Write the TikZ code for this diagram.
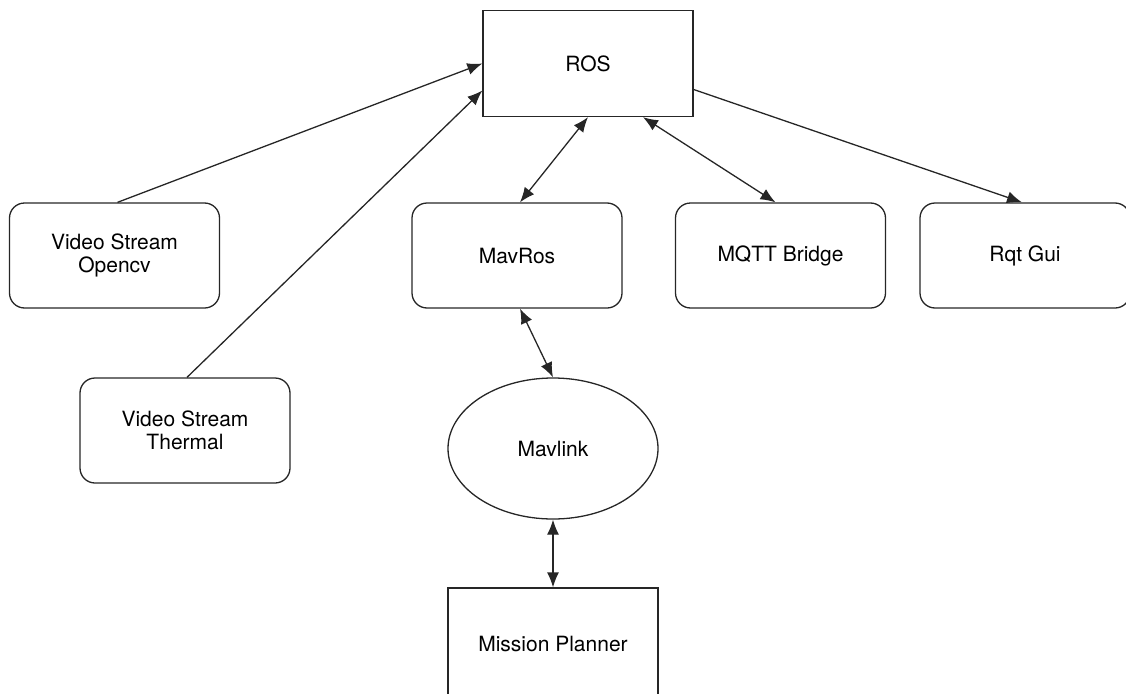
\documentclass[tikz,border=0pt]{standalone}
\usepackage{fontspec}
\setmainfont{TeX Gyre Heros}
\usetikzlibrary{shapes.geometric,arrows.meta}

\begin{document}
\begin{tikzpicture}[x=1pt, y=-1pt,
	every node/.style={font=\fontsize{21}{23}\selectfont, align=center, draw=black!85, line width=1.3pt},
	sqbox/.style={rectangle, minimum width=210pt, minimum height=106pt},
	rbox/.style={rectangle, rounded corners=15pt, minimum width=210pt, minimum height=105pt},
	link/.style={line width=1.3pt, black!85, -{Latex[length=15pt, width=12pt]}},
	biLink/.style={line width=1.3pt, black!85, {Latex[length=15pt, width=12pt]}-{Latex[length=15pt, width=12pt]}}]
	\useasboundingbox (0,0) rectangle (1126,693);

	\node [sqbox] (ros) at (588,63.5) {ROS};

	\node [rbox] (opencv) at (114.5,255.5) {Video Stream\\Opencv};
	\node [rbox] (thermal) at (185,430.5) {Video Stream\\Thermal};
	\node [rbox] (mavros) at (517,255.5) {MavRos};
	\node [rbox] (mqtt) at (780.5,255.5) {MQTT Bridge};
	\node [rbox] (rqt) at (1025,255.5) {Rqt Gui};

	\node [ellipse, minimum width=210pt, minimum height=141pt, inner sep=0pt] (mavlink) at (553,448.5) {Mavlink};
	\node [sqbox, minimum height=112pt] (planner) at (553,644) {Mission Planner};

	\draw [link] ([xshift=3pt]opencv.north) -- (ros.west);
	\draw [link] ([xshift=2pt]thermal.north) -- ([yshift=-27pt]ros.west);
	\draw [link] ([yshift=-26pt]ros.east) -- ([xshift=-3pt]rqt.north);

	\draw [biLink] (ros.south) -- ([xshift=3pt]mavros.north);
	\draw [biLink] ([xshift=55pt]ros.south) -- ([xshift=-5pt]mqtt.north);
	\draw [biLink] ([xshift=3pt]mavros.south) -- (mavlink.north);
	\draw [biLink] (mavlink.south) -- (planner.north);
\end{tikzpicture}
\end{document}
